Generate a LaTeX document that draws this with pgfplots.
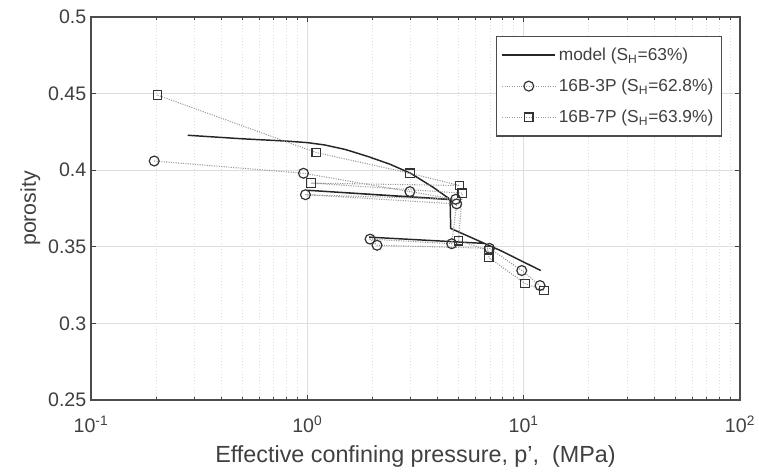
\documentclass[border=0pt]{standalone}
\usepackage{fontspec}
\setmainfont{Liberation Sans}
\usepackage{pgfplots}
\pgfplotsset{compat=1.18}
\definecolor{txt}{HTML}{404040}
\begin{document}
\begin{tikzpicture}
\begin{axis}[
  scale only axis, width=486.75pt, height=287.25pt,
  xmode=log, xmin=0.1, xmax=100, ymin=0.25, ymax=0.5,
  xtick={0.1,1,10,100},
  xticklabels={10\textsuperscript{-1},10\textsuperscript{0},10\textsuperscript{1},10\textsuperscript{2}},
  minor xtick={0.2,0.3,0.4,0.5,0.6,0.7,0.8,0.9,2,3,4,5,6,7,8,9,20,30,40,50,60,70,80,90},
  ytick={0.25,0.3,0.35,0.4,0.45,0.5},
  yticklabels={0.25,0.3,0.35,0.4,0.45,0.5},
  tick align=inside, major tick length=4pt, minor tick length=2.5pt,
  every tick/.style={black!75, line width=0.5pt},
  grid=both,
  major grid style={black!13, line width=0.5pt},
  minor grid style={black!13, dotted, line width=0.5pt},
  axis line style={black!70, line width=0.8pt},
  tick label style={font=\fontsize{14.7}{16}\selectfont, text=txt},
  xticklabel style={yshift=-8.5pt},
  xlabel={Effective confining pressure, p',\ \ (MPa)},
  ylabel={porosity},
  xlabel style={font=\fontsize{17.5}{19}\selectfont, text=txt,
    at={(rel axis cs:0.5,0)}, anchor=center, yshift=-42.5pt},
  ylabel style={font=\fontsize{16}{18}\selectfont, text=txt,
    at={(rel axis cs:-0.0935,0.5)}, anchor=center},
  legend cell align=left,
  legend style={at={(0.972,0.951)}, anchor=north east, draw=black!70, line width=0.8pt,
    font=\fontsize{13}{15}\selectfont, text=txt, row sep=8.5pt, inner xsep=4pt, inner ysep=6.5pt},
  legend image code/.code={\draw[mark repeat=2,mark phase=2,#1] plot coordinates {(0pt,0pt) (20pt,0pt) (40pt,0pt)};},
]
\addplot[black!85, line width=1.1pt] coordinates {
(0.28,0.4228) (0.5,0.4205) (0.8,0.419) (1.0,0.418) (1.2,0.4165) (1.5,0.4135)
(1.9,0.409) (2.4,0.404) (3.0,0.398) (3.8,0.389) (4.57,0.381) (1.0,0.3869)
(4.57,0.3808) (4.6,0.362) (6.59,0.3522) (1.93,0.3563) (6.59,0.3522)
(7.8,0.3476) (12,0.3345)
};
\addlegendentry{model (S\textsubscript{H}=63\%)}
\addplot[black!40, densely dotted, line width=0.8pt, mark=o, mark size=3.7pt,
  mark options={solid, draw=black!80, line width=0.9pt}] coordinates {
(0.196,0.406) (0.96,0.398) (2.98,0.386) (4.85,0.381) (0.98,0.384) (4.9,0.378)
(4.65,0.352) (1.95,0.355) (2.1,0.351) (6.95,0.349) (9.8,0.3345) (11.9,0.3247)
};
\addlegendentry{16B-3P (S\textsubscript{H}=62.8\%)}
\addplot[black!40, densely dotted, line width=0.8pt, mark=square, mark size=3.2pt,
  mark options={solid, draw=black!80, line width=0.9pt}] coordinates {
(0.203,0.449) (1.10,0.4115) (2.98,0.398) (5.05,0.390) (1.04,0.3916) (5.2,0.385)
(5.0,0.354) (6.9,0.3476) (6.9,0.343) (10.15,0.326) (12.4,0.3215)
};
\addlegendentry{16B-7P (S\textsubscript{H}=63.9\%)}
\end{axis}
\pgfresetboundingbox
\path ([shift={(-68.25pt,-54pt)}]current axis.south west) rectangle ([shift={(14.25pt,12.75pt)}]current axis.north east);
\end{tikzpicture}
\end{document}
